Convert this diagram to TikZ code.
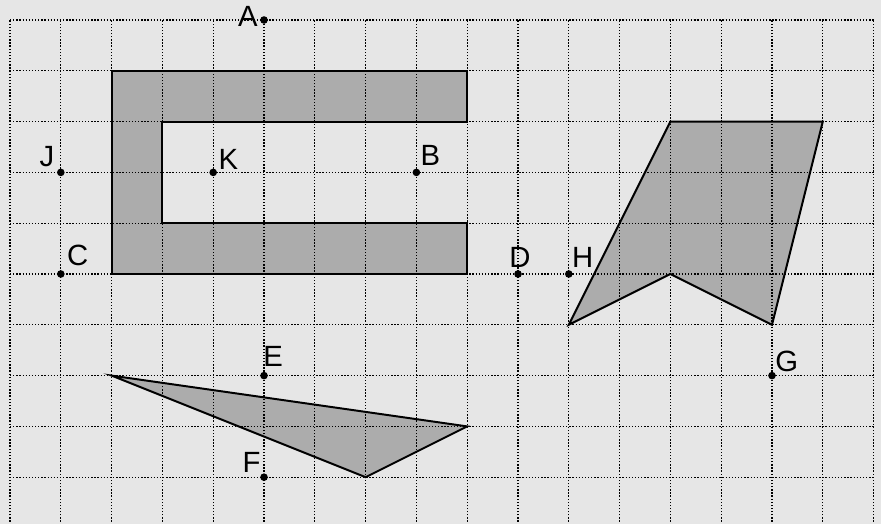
\documentclass[tikz,border=0pt]{standalone}
\usepackage{fontspec}
\setmainfont{Liberation Sans}
\definecolor{fondo}{HTML}{E6E6E6}

\begin{document}
\begin{tikzpicture}[
    x=1cm, y=1cm,
    font=\fontsize{16.4}{19.7}\selectfont,
    punto/.style={circle, fill=black, inner sep=0pt, minimum size=0.15cm},
    figura/.style={draw=black, line width=1.1pt, fill=black, fill opacity=0.25},
    malla/.style={black, line width=0.75pt, dash pattern=on 0.75pt off 1.0pt},
    etiq/.style={inner sep=0pt}
  ]

    % --- Marco y fondo ---
    \fill[fondo] (-0.197,0.079) rectangle (17.146,10.394);
    \useasboundingbox (-0.197,0.079) rectangle (17.146,10.394);
    \clip (-0.197,0.079) rectangle (17.146,10.394);

    % --- Cuadricula ---
    \draw[malla] (0,0) grid (17,10);

    % --- Figuras ---
    \draw[figura] (2,9) -- (9,9) -- (9,8) -- (3,8) -- (3,6) -- (9,6) -- (9,5) -- (2,5) -- cycle;
    \draw[figura] (13,8) -- (16,8) -- (15,4) -- (13,5) -- (11,4) -- cycle;
    \draw[figura] (2,3) -- (9,2) -- (7,1) -- cycle;

    % --- Puntos ---
    \foreach \n/\x/\y in {A/5/10, J/1/7, K/4/7, B/8/7, C/1/5, D/10/5, H/11/5, E/5/3, F/5/1, G/15/3}
      \node[punto] (\n) at (\x,\y) {};

    % Etiquetas
    \node[etiq, anchor=south east] (lA) at ([shift={(-3.4pt,-3.9pt)}]A) {A};
    \node[etiq, anchor=south east] (lJ) at ([shift={(-3.4pt,2.8pt)}]J) {J};
    \node[etiq, anchor=south west] (lK) at ([shift={(2.8pt,1.7pt)}]K) {K};
    \node[etiq, anchor=south west] (lB) at ([shift={(2.2pt,3.4pt)}]B) {B};
    \node[etiq, anchor=south west] (lC) at ([shift={(3.4pt,4.5pt)}]C) {C};
    \node[etiq, anchor=south] (lD) at ([shift={(1.1pt,3.4pt)}]D) {D};
    \node[etiq, anchor=south west] (lH) at ([shift={(1.7pt,3.4pt)}]H) {H};
    \node[etiq, anchor=south west] (lE) at ([shift={(-0.6pt,5pt)}]E) {E};
    \node[etiq, anchor=south east] (lF) at ([shift={(-1.7pt,2.2pt)}]F) {F};
    \node[etiq, anchor=south west] (lG) at ([shift={(1.7pt,1.7pt)}]G) {G};

  \end{tikzpicture}
\end{document}
